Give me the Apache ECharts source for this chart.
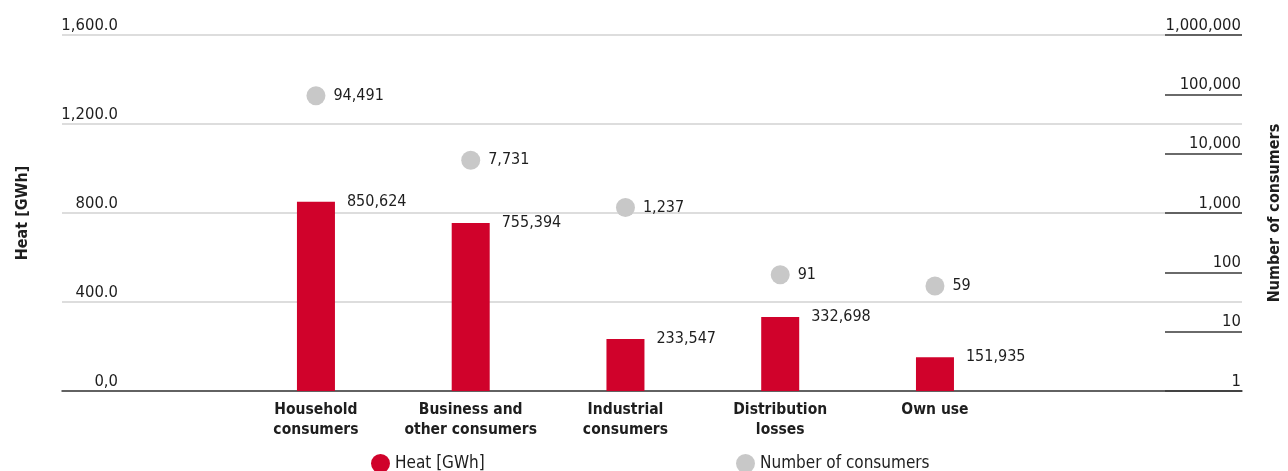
<!DOCTYPE html>
<html>
<head>
<meta charset="utf-8">
<script src="https://cdn.jsdelivr.net/npm/echarts@6/dist/echarts.min.js"></script>
<style>
  html, body { margin: 0; padding: 0; background: #fff; }
  #chart { width: 1288px; height: 471px; }
</style>
</head>
<body>
<div id="chart"></div>
<script>
// Heat supplied and number of consumers by consumer group
const categories = ['Household\nconsumers', 'Business and\nother consumers', 'Industrial\nconsumers', 'Distribution\nlosses', 'Own use'];
const heatGWh = [850.624, 755.394, 233.547, 332.698, 151.935];
const consumers = [94491, 7731, 1237, 91, 59];
const heatTickLabels = ['0,0', '400.0', '800.0', '1,200.0', '1,600.0'];
const consumerTicks = [1, 10, 100, 1000, 10000, 100000, 1000000];

const FONT = '"Liberation Sans Narrow", "DejaVu Sans Condensed", "Roboto", sans-serif';
const RED = '#d0022b';
const GREY = '#c8c8c8';
const INK = '#1e1e1e';

const fmtThousands = v => String(v).replace(/\B(?=(\d{3})+(?!\d))/g, ',');
const fmtDecimalComma = v => v.toFixed(3).replace('.', ',');

const chart = echarts.init(document.getElementById('chart'), null, { renderer: 'canvas' });

chart.setOption({
  animation: false,
  textStyle: { fontFamily: FONT },
  grid: { left: 62, right: 46, top: 35, bottom: 80, containLabel: false, outerBoundsMode: 'none' },
  legend: [
    {
      data: ['Heat [GWh]'], left: 366, top: 449, icon: 'circle',
      itemWidth: 19, itemHeight: 19, itemGap: 0,
      textStyle: { fontFamily: FONT, fontSize: 17, color: INK }
    },
    {
      data: ['Number of consumers'], left: 731, top: 449, icon: 'circle',
      itemWidth: 19, itemHeight: 19, itemGap: 0,
      textStyle: { fontFamily: FONT, fontSize: 17, color: INK }
    }
  ],
  xAxis: {
    type: 'value',
    min: -1.641,
    max: 5.984,
    splitLine: { show: false },
    axisLine: { show: true, onZero: false, lineStyle: { color: '#3a3a3a', width: 1.5 } },
    axisTick: { show: false },
    axisLabel: {
      customValues: categories.map((_, i) => i),
      formatter: v => categories[Math.round(v)] || '',
      fontFamily: FONT, fontWeight: 'bold', fontSize: 15.5, color: INK,
      lineHeight: 20, verticalAlign: 'top', margin: 9
    }
  },
  yAxis: [
    {
      type: 'value', position: 'left', min: 0, max: 1600, interval: 400,
      name: 'Heat [GWh]', nameLocation: 'middle', nameRotate: 90, nameGap: 31,
      nameTextStyle: { fontFamily: FONT, fontWeight: 'bold', fontSize: 16, color: INK },
      axisLine: { show: false }, axisTick: { show: false },
      splitLine: { show: true, lineStyle: { color: '#d2d2d2', width: 1.5 } },
      axisLabel: {
        inside: true, align: 'right', margin: 56, verticalAlign: 'bottom',
        padding: [0, 0, 1, 0],
        fontFamily: FONT, fontSize: 16.5, color: INK,
        formatter: v => heatTickLabels[Math.round(v / 400)]
      }
    },
    {
      type: 'log', logBase: 10, position: 'right', min: 1, max: 1000000,
      name: 'Number of consumers', nameLocation: 'middle', nameRotate: 90, nameGap: 25,
      nameTextStyle: { fontFamily: FONT, fontWeight: 'bold', fontSize: 16, color: INK },
      axisLine: { show: false },
      splitLine: { show: false },
      axisTick: {
        show: true, inside: true, length: 77, customValues: consumerTicks,
        lineStyle: { color: '#3a3a3a', width: 1.5 }
      },
      axisLabel: {
        inside: true, align: 'right', margin: 1, verticalAlign: 'bottom',
        padding: [0, 0, 1, 0], customValues: consumerTicks,
        fontFamily: FONT, fontSize: 16.5, color: INK,
        formatter: v => fmtThousands(Math.round(v))
      }
    }
  ],
  series: [
    {
      name: 'Heat [GWh]', type: 'bar', yAxisIndex: 0, barWidth: 38,
      itemStyle: { color: RED },
      data: heatGWh.map((v, i) => [i, v]),
      label: {
        show: true, position: [50, 0], align: 'left', verticalAlign: 'middle',
        fontFamily: FONT, fontSize: 16, color: INK,
        formatter: p => fmtDecimalComma(p.value[1])
      }
    },
    {
      name: 'Number of consumers', type: 'scatter', yAxisIndex: 1,
      symbol: 'circle', symbolSize: 19,
      itemStyle: { color: GREY, opacity: 1 },
      data: consumers.map((v, i) => [i, v]),
      label: {
        show: true, position: 'right', distance: 8,
        fontFamily: FONT, fontSize: 16, color: INK,
        formatter: p => fmtThousands(p.value[1])
      }
    }
  ]
});
</script>
</body>
</html>
